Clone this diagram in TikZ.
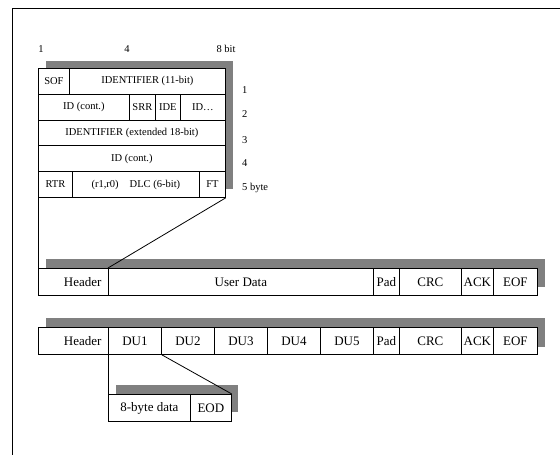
\documentclass[tikz,border=0pt]{standalone}
\usepackage{fontspec}
\setmainfont{Liberation Serif}
\usetikzlibrary{positioning}
\definecolor{SH}{HTML}{808080}

\begin{document}
\begin{tikzpicture}[x=1pt,y=-1pt,
    hcell/.style={draw, fill=white, line width=0.8pt, inner sep=0pt,
      anchor=north west, minimum height=25.8pt, font=\fontsize{10.5}{12}\selectfont},
    fcell/.style={draw, fill=white, line width=0.8pt, inner sep=0pt,
      anchor=north west, minimum height=27pt, font=\fontsize{13}{15}\selectfont},
    lbl/.style={inner sep=0pt, font=\fontsize{10.5}{12}\selectfont},
    hdr/.style={fcell, text width=56pt, inner xsep=7pt, align=right}]
  \useasboundingbox (0,0) rectangle (560,455);
  \draw[line width=1pt] (12,455) -- (12,8) -- (560,8);

  % bit and byte numbers
  \node[lbl, anchor=base] (bit1) at (41,52) {1};
  \node[lbl, anchor=base] (bit4) at (127,52) {4};
  \node[lbl, anchor=base] (bit8) at (226,52) {8 bit};
  \foreach \y/\t [count=\i] in {93.5/1,117/2,143/3,166/4,190/5 byte}
    \node[lbl, anchor=base west] (byte\i) at (242,\y) {\t};

  % shadows
  \fill[SH] (46,61) rectangle (233,189);
  \fill[SH] (46,259) rectangle (545,287);
  \fill[SH] (46,318) rectangle (545,347);
  \fill[SH] (116,385) rectangle (238,412);

  % header bytes
  \node[hcell, minimum width=31pt] (sof) at (38,68) {SOF};
  \node[hcell, minimum width=156pt] (ident) at (69,68) {IDENTIFIER (11-bit)};
  \node[hcell, minimum width=91pt] (idc) at (38,93.8) {ID (cont.)};
  \node[hcell, minimum width=26pt] (srr) at (129,93.8) {SRR};
  \node[hcell, minimum width=25pt] (ide) at (155,93.8) {IDE};
  \node[hcell, minimum width=45pt] (idx) at (180,93.8) {ID\ldots};
  \node[hcell, minimum width=187pt] (idext) at (38,119.6) {IDENTIFIER (extended 18-bit)};
  \node[hcell, minimum width=187pt] (idc2) at (38,145.4) {ID (cont.)};
  \node[hcell, minimum width=34pt] (rtr) at (38,171.2) {RTR};
  \node[hcell, minimum width=127pt] (dlc) at (72,171.2) {(r1,r0)\hspace{11pt}DLC (6-bit)};
  \node[hcell, minimum width=26pt] (ft) at (199,171.2) {FT};

  % single frame
  \node[hdr] (hdrA) at (38,268) {Header};
  \node[fcell, minimum width=265pt] (user) at (108,268) {User Data};
  \node[fcell, minimum width=26pt] (padA) at (373,268) {Pad};
  \node[fcell, minimum width=62pt] (crcA) at (399,268) {CRC};
  \node[fcell, minimum width=32pt] (ackA) at (461,268) {ACK};
  \node[fcell, minimum width=44pt] (eofA) at (493,268) {EOF};

  % frame with data units
  \node[hdr] (hdrB) at (38,327) {Header};
  \foreach \i in {1,...,5}
    \node[fcell, minimum width=53pt] (du\i) at ({108+(\i-1)*53},327) {DU\i};
  \node[fcell, minimum width=26pt] (padB) at (373,327) {Pad};
  \node[fcell, minimum width=62pt] (crcB) at (399,327) {CRC};
  \node[fcell, minimum width=32pt] (ackB) at (461,327) {ACK};
  \node[fcell, minimum width=44pt] (eofB) at (493,327) {EOF};

  % data unit
  \node[fcell, minimum width=82pt] (data8) at (108,394) {8-byte data};
  \node[fcell, minimum width=41pt] (eod) at (190,394) {EOD};

  \draw[line width=0.8pt] (rtr.south west) -- (hdrA.north west);
  \draw[line width=0.8pt] (ft.south east) -- (user.north west);
  \draw[line width=0.8pt] (du1.south west) -- (data8.north west);
  \draw[line width=0.8pt] (du1.south east) -- (eod.north east);
\end{tikzpicture}
\end{document}
